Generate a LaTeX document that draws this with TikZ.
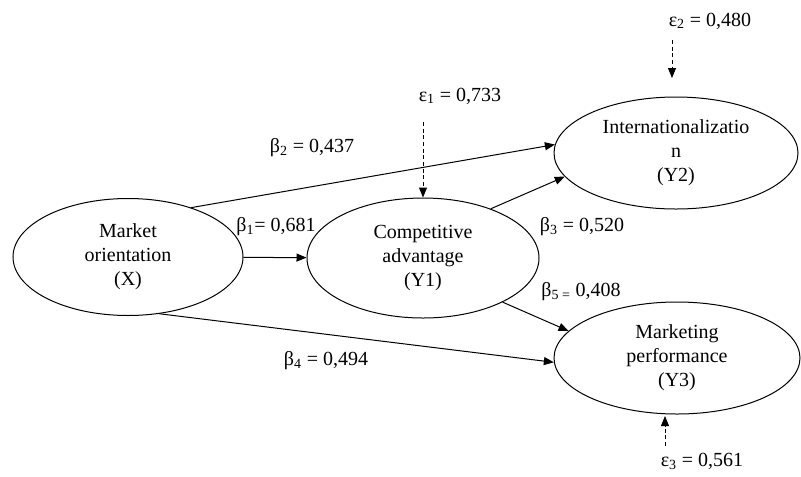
\documentclass[tikz,border=0pt]{standalone}
\usepackage{fontspec}
\setmainfont{Liberation Serif}
\usetikzlibrary{shapes.geometric,arrows.meta}
\begin{document}
\begin{tikzpicture}[x=0.75pt,y=-0.75pt,
  lv/.style={draw,ellipse,line width=0.75pt,inner sep=0pt,align=center,font=\fontsize{15}{18}\selectfont},
  path/.style={line width=0.75pt,-{Triangle[length=7.5pt,width=6pt]}},
  err/.style={line width=0.75pt,dashed,dash pattern=on 3pt off 2pt,-{Triangle[length=7.5pt,width=6pt]}},
  lab/.style={font=\fontsize{15}{18}\selectfont,inner sep=0pt}]
\useasboundingbox (0,0) rectangle (801,476);
\node[lv,minimum width=172.5pt,minimum height=87.75pt] (X) at (128,257) {Market\\orientation\\(X)};
\node[lv,minimum width=174pt,minimum height=90pt] (Y1) at (423,258) {Competitive\\advantage\\(Y1)};
\node[lv,minimum width=183pt,minimum height=84pt] (Y2) at (676,153) {Internationalizatio\\n\\(Y2)};
\node[lv,minimum width=184.5pt,minimum height=84pt] (Y3) at (677,358) {Marketing\\performance\\(Y3)};

\draw[path] (X) -- (Y1);
\draw[path] (X.38) -- (Y2.176);
\draw[path] (Y1.36) -- (Y2.192);
\draw[path] (Y1.331) -- (Y3.166);
\draw[path] (X.299) -- (Y3.182);

\coordinate (c1) at (423,122);
\coordinate (c2) at (672,40);
\coordinate (d2) at (672,78);
\coordinate (c3) at (665,446);
\coordinate (d3) at (665,416);
\draw[err] (c1) -- (Y1.north);
\draw[err] (c2) -- (d2);
\draw[err] (c3) -- (d3);

\node[lab] (e1) at (460,96) {ε\textsubscript{1} = 0,733};
\node[lab] (e2) at (710,21) {ε\textsubscript{2} = 0,480};
\node[lab] (e3) at (702,461) {ε\textsubscript{3} = 0,561};
\node[lab] (b1) at (276,227) {β\textsubscript{1}= 0,681};
\node[lab] (b2) at (312,148) {β\textsubscript{2} = 0,437};
\node[lab] (b3) at (582,227) {β\textsubscript{3} = 0,520};
\node[lab] (b4) at (326,361) {β\textsubscript{4} = 0,494};
\node[lab] (b5) at (581,292) {β\textsubscript{5 =} 0,408};
\end{tikzpicture}
\end{document}
